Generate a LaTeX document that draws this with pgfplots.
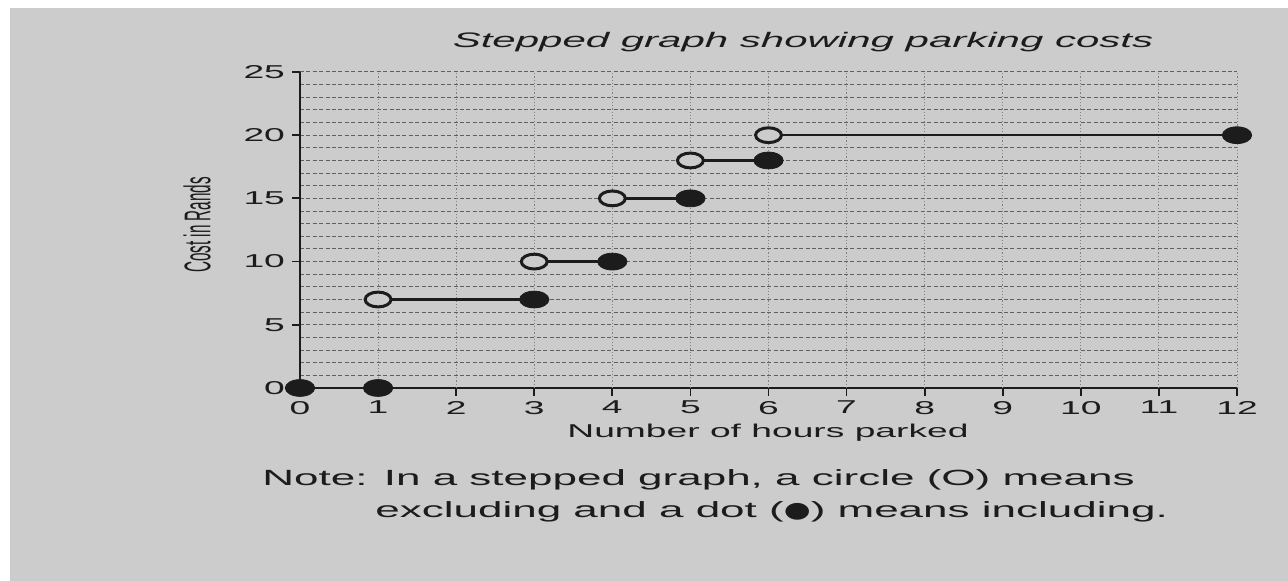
\documentclass[border=0pt]{standalone}
\usepackage{pgfplots}
\pgfplotsset{compat=1.18}
\usepackage{fontspec}
\setmainfont[FakeStretch=2]{Liberation Sans}
\newfontfamily\narrowfont[FakeStretch=0.82]{Liberation Sans}
\newfontfamily\symfont[FakeStretch=1.4]{DejaVu Sans}
\definecolor{paper}{RGB}{204,204,204}
\definecolor{ink}{RGB}{28,28,28}
\begin{document}
\begin{tikzpicture}
\fill[white] (-150pt,-96.5pt) rectangle (494pt,194pt);
\fill[paper] (-145pt,-96.5pt) rectangle (494pt,190pt);
\useasboundingbox (-150pt,-96.5pt) rectangle (494pt,194pt);
\begin{axis}[
  at={(0,0)}, anchor=south west, scale only axis,
  width=468.5pt, height=158pt,
  xmin=0, xmax=12, ymin=0, ymax=25,
  axis lines=left,
  axis line style={-, line width=1.4pt, draw=ink},
  xtick={0,1,2,3,4,5,6,7,8,9,10,11,12},
  ytick={0,5,10,15,20,25},
  minor ytick={1,2,3,4,6,7,8,9,11,12,13,14,16,17,18,19,21,22,23,24},
  tick align=outside,
  major tick length=4pt,
  minor tick length=0pt,
  tick style={line width=0.9pt, draw=ink},
  ymajorgrids, yminorgrids,
  major grid style={draw=ink!70, line width=0.5pt, dash pattern=on 2pt off 1.2pt},
  minor grid style={draw=ink!70, line width=0.5pt, dash pattern=on 2pt off 1.2pt},
  /pgf/number format/assume math mode=true,
  ticklabel style={font=\fontsize{9.3}{10}\selectfont, text=ink},
  xticklabel style={yshift=1pt},
  clip=false,
]
\pgfplotsinvokeforeach{1,...,12}{
  \draw[ink!55, line width=0.5pt, dash pattern=on 0.6pt off 1pt] (axis cs:#1,0) -- (axis cs:#1,25);
}
% step segments
\addplot[ink, line width=1.3pt, no marks] coordinates {(1,7) (3,7)};
\addplot[ink, line width=1.3pt, no marks] coordinates {(3,10) (4,10)};
\addplot[ink, line width=1.3pt, no marks] coordinates {(4,15) (5,15)};
\addplot[ink, line width=1.3pt, no marks] coordinates {(5,18) (6,18)};
\addplot[ink, line width=1.3pt, no marks] coordinates {(6,20) (12,20)};
% included (filled) dots
\addplot[only marks, mark=*, mark size=4.2pt,
  mark options={xscale=1.75, fill=ink, draw=ink}]
  coordinates {(0,0) (1,0) (3,7) (4,10) (5,15) (6,18) (12,20)};
% excluded (open) circles
\addplot[only marks, mark=*, mark size=3.7pt,
  mark options={xscale=1.75, fill=paper, draw=ink, line width=1.5pt}]
  coordinates {(1,7) (3,10) (4,15) (5,18) (6,20)};
\end{axis}
\node[text=ink, font=\fontsize{10.5}{12}\selectfont\itshape] at (251.5pt,173pt) {Stepped graph showing parking costs};
\node[text=ink] at (-51.5pt,81.5pt) {\scalebox{2}[1]{\rotatebox{90}{\narrowfont\fontsize{9.3}{10}\selectfont Cost in Rands}}};
\node[text=ink, font=\fontsize{9.3}{11}\selectfont] at (234pt,-22.5pt) {Number of hours parked};
\node[text=ink, anchor=west, font=\fontsize{11}{13}\selectfont, inner sep=0pt] at (-19pt,-46pt) {Note: In a stepped graph, a circle (O) means};
\node[text=ink, anchor=west, font=\fontsize{11}{13}\selectfont, inner sep=0pt] at (37.5pt,-62pt) {excluding and a dot ({\symfont ●}) means including.};
\end{tikzpicture}
\end{document}
